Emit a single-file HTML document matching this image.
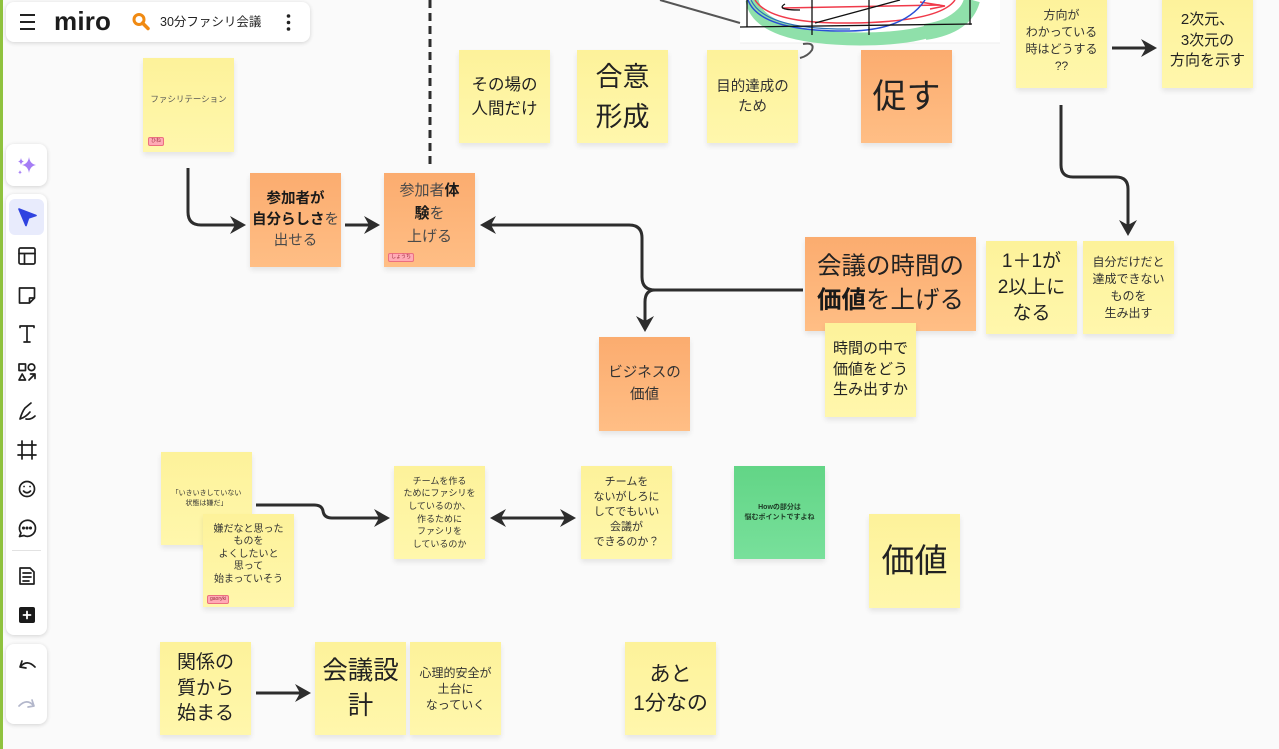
<!DOCTYPE html>
<html><head><meta charset="utf-8"><style>
*{margin:0;padding:0;box-sizing:border-box}
html,body{width:1279px;height:749px;overflow:hidden;background:#fafafa;font-family:"Liberation Sans","Noto Sans CJK JP",sans-serif}
.n{position:absolute;display:flex;flex-direction:column;align-items:center;justify-content:center;text-align:center;color:#222;white-space:nowrap;box-shadow:0 3px 5px rgba(0,0,0,.09)}
.y{background:linear-gradient(#fdf29a,#fff7ac)}
.o{background:linear-gradient(#fbac6f,#ffbe85)}
.g{background:linear-gradient(#62d586,#78e09b)}
.tag{position:absolute;background:#ffaab5;border:1px solid #ec6f80;border-radius:2px;font-size:5px;color:#9a2c3a;line-height:7px;padding:0 2px;white-space:nowrap}
.panel{position:absolute;background:#fff;border-radius:8px;box-shadow:0 1px 4px rgba(0,0,0,.16)}
b{font-weight:700;color:#1a1a1a}
.lt{color:#4a4a4a}
</style></head><body>
<div style="position:absolute;left:0;top:0;width:3px;height:749px;background:#8fc23e"></div>

<!-- sketch area -->
<svg style="position:absolute;left:0;top:0" width="1279" height="749">
<rect x="740" y="-2" width="260" height="45" fill="#fff"/>
<line x1="740" y1="43" x2="1000" y2="43" stroke="#eee" stroke-width="1"/>
<path d="M660,0 L740,23" stroke="#555" stroke-width="2" fill="none"/>
<path d="M752,0 Q758,38 860,39 Q955,39 972,0" stroke="#8fe0aa" stroke-width="13" fill="none"/>
<path d="M925,32 Q965,26 972,0" stroke="#8fe0aa" stroke-width="16" fill="none"/>
<path d="M755,0 Q770,24 850,23 Q940,22 955,0" stroke="#f03a4a" stroke-width="1.5" fill="none"/>
<path d="M782,8 L940,5 M920,2 L945,6 L930,9" stroke="#f03a4a" stroke-width="1.5" fill="none"/>
<path d="M748,0 Q760,32 850,31 Q905,30 925,0" stroke="#2a4fd6" stroke-width="1.5" fill="none"/>
<path d="M751,0 Q765,30 850,29" stroke="#2a70b8" stroke-width="1.2" fill="none"/>
<path d="M740,27 L972,24 M747,0 V27 M812,0 V35 M869,0 V35 M970,0 V25 M815,23 L900,0 M785,4 Q775,10 800,10" stroke="#111" stroke-width="1.3" fill="none"/>
<path d="M803,44 Q815,42 812,50 Q808,56 800,58" stroke="#555" stroke-width="2" fill="none"/>
</svg>

<!-- header -->
<div class="panel" style="left:6px;top:2px;width:304px;height:40px"></div>
<svg style="position:absolute;left:0;top:0" width="320" height="45">
<path d="M20,15 H35 M20,22 H35 M20,29 H35" stroke="#222" stroke-width="2"/>
<circle cx="139" cy="19.5" r="5" stroke="#f08a12" stroke-width="3" fill="none"/>
<path d="M142.5,23 L148,28.5" stroke="#f08a12" stroke-width="3.5" stroke-linecap="round"/>
<circle cx="288.5" cy="16" r="1.8" fill="#222"/><circle cx="288.5" cy="22.5" r="1.8" fill="#222"/><circle cx="288.5" cy="29" r="1.8" fill="#222"/>
</svg>
<div style="position:absolute;left:54px;top:5px;font-size:26px;font-weight:700;color:#1c1c1c;letter-spacing:0.2px;line-height:32px">miro</div>
<div style="position:absolute;left:160px;top:14px;font-size:12.5px;color:#222;line-height:17px">30分ファシリ会議</div>

<!-- left toolbar -->
<div class="panel" style="left:6px;top:144px;width:41px;height:42px"></div>
<div class="panel" style="left:6px;top:194px;width:41px;height:441px"></div>
<div class="panel" style="left:6px;top:644px;width:41px;height:80px"></div>
<div style="position:absolute;left:9px;top:199px;width:35px;height:36px;background:#e8ebfc;border-radius:6px"></div>
<div style="position:absolute;left:12px;top:550px;width:29px;height:1px;background:#e2e2e2"></div>
<svg style="position:absolute;left:0;top:0" width="60" height="749" fill="none" stroke="#1f1f1f" stroke-width="1.7" stroke-linejoin="round" stroke-linecap="round">
<path d="M29,157 Q30,164 36,165 Q30,166 29,173 Q28,166 22,165 Q28,164 29,157Z" fill="#a57df5" stroke="none"/>
<path d="M21,158 Q21.5,161 24,161.5 Q21.5,162 21,165 Q20.5,162 18,161.5 Q20.5,161 21,158Z" fill="#a57df5" stroke="none"/>
<path d="M20,170 Q20.3,172 22,172.3 Q20.3,172.6 20,174.5 Q19.7,172.6 18,172.3 Q19.7,172 20,170Z" fill="#a57df5" stroke="none"/>
<path d="M19,209 L36,215.5 L28.5,218 L26,225.5Z" fill="#2f43e0" stroke="#2f43e0"/>
<rect x="19" y="248" width="16" height="16" rx="1.5"/><path d="M19,253.5 H35 M24.5,253.5 V264"/>
<path d="M19.5,288 H34.5 V298 L29.5,303 H19.5Z M29.5,303 V298 H34.5"/>
<path d="M20,327.5 V326 H34 V327.5 M27,326 V342 M24,342 H30"/>
<rect x="19" y="364" width="6.5" height="6.5"/><circle cx="31.5" cy="367.3" r="3.3"/><path d="M22.2,374 L25.5,380 H19Z"/><path d="M29,380 L35,374 M30.5,374 H35 V378.5"/>
<path d="M20,419 Q22,412 25,408 L31,403 M20,419 Q26,417 30,412 M26,419 Q31,420 35,416"/>
<path d="M22,441 V459 M32,441 V459 M18,445 H36 M18,455 H36"/>
<circle cx="27" cy="489" r="7.5"/><path d="M24,486.5 h0.1 M30,486.5 h0.1 M23.5,491 Q27,494.5 30.5,491"/>
<path d="M21,533 A8,8 0 1 1 24,535.5 L19.5,536.5Z"/><circle cx="23.5" cy="528" r="0.7" fill="#1f1f1f"/><circle cx="27" cy="528" r="0.7" fill="#1f1f1f"/><circle cx="30.5" cy="528" r="0.7" fill="#1f1f1f"/>
<path d="M20,568 H30 L34,572 V584 H20Z M23,573 H31 M23,577 H31 M23,581 H29"/>
<rect x="19" y="607" width="16" height="16" rx="2" fill="#1a1a1a" stroke="none"/><path d="M27,611.5 V618.5 M23.5,615 H30.5" stroke="#fff" stroke-width="1.8"/>
<path d="M22,661 L20,667 L26,668 M20.5,666.5 Q27,659 35,667"/>
<path d="M32,700 L34,706 L28,707 M33.5,705.5 Q27,698 19,706" stroke="#b3b7cb"/>
</svg>

<!-- connectors -->
<svg style="position:absolute;left:0;top:0" width="1279" height="749">
<g stroke="#2d2d2d" stroke-width="3" fill="none">
<path d="M430,0 V168" stroke-dasharray="8,5"/>
<path d="M188,168 V212 Q188,225 201,225 H236"/>
<path d="M345,225 H370"/>
<path d="M803,290 H655 Q642,290 642,277 V238 Q642,225 629,225 H490"/>
<path d="M655,290 Q645,290 645,302 V322"/>
<path d="M1112,48 H1147"/>
<path d="M1061,105 V165 Q1061,177 1073,177 H1116 Q1128,177 1128,189 V226"/>
<path d="M256,505 H314 Q322,505 323,511 Q324,518 332,518 H380"/>
<path d="M500,518 H566"/>
<path d="M256,693 H301"/>
</g>
<g fill="#2d2d2d">
<polygon points="246,225 230,216 235,225 230,234"/>
<polygon points="380,225 364,216 369,225 364,234"/>
<polygon points="480,225 496,216 491,225 496,234"/>
<polygon points="645,332 636,316 645,321 654,316"/>
<polygon points="1157,48 1141,39 1146,48 1141,57"/>
<polygon points="1128,236 1119,220 1128,225 1137,220"/>
<polygon points="390,518 374,509 379,518 374,527"/>
<polygon points="490,518 506,509 501,518 506,527"/>
<polygon points="576,518 560,509 565,518 560,527"/>
<polygon points="311,693 295,684 300,693 295,702"/>
</g>
</svg>

<!-- notes -->
<div class="n y" style="left:143px;top:58px;width:91px;height:94px;font-size:8.5px;color:#555;padding-bottom:12px">ファシリテーション</div>
<div class="tag" style="left:148px;top:137px">ひね</div>

<div class="n o" style="left:250px;top:173px;width:91px;height:94px;font-size:14.5px;line-height:21px"><div><b>参加者が</b><br><b>自分らしさ</b><span class="lt">を</span><br><span class="lt">出せる</span></div></div>

<div class="n o" style="left:384px;top:173px;width:91px;height:94px;font-size:15px;line-height:23px;padding-bottom:14px"><div><span class="lt">参加者</span><b>体</b><br><b>験</b><span class="lt">を</span><br><span class="lt">上げる</span></div></div>
<div class="tag" style="left:388px;top:253px">しょうち</div>

<div class="n y" style="left:459px;top:50px;width:91px;height:93px;font-size:16.5px;line-height:24px"><div>その場の<br>人間だけ</div></div>
<div class="n y" style="left:577px;top:50px;width:91px;height:93px;font-size:27px;line-height:40px"><div>合意<br>形成</div></div>
<div class="n y" style="left:707px;top:50px;width:91px;height:93px;font-size:14.5px;line-height:20px;color:#333"><div>目的達成の<br>ため</div></div>
<div class="n o" style="left:861px;top:50px;width:91px;height:93px;font-size:34px;line-height:40px"><div>促す</div></div>

<div class="n y" style="left:1016px;top:-6px;width:91px;height:94px;font-size:12px;line-height:17px;color:#333"><div>方向が<br>わかっている<br>時はどうする<br>??</div></div>
<div class="n y" style="left:1162px;top:-6px;width:91px;height:94px;font-size:15px;line-height:20.5px"><div>2次元、<br>3次元の<br>方向を示す</div></div>

<div class="n o" style="left:805px;top:237px;width:171px;height:94px;font-size:24.5px;line-height:34px"><div>会議の時間の<br><b>価値</b>を上げる</div></div>
<div class="n y" style="left:825px;top:323px;width:91px;height:94px;font-size:15px;line-height:20.5px"><div>時間の中で<br>価値をどう<br>生み出すか</div></div>

<div class="n y" style="left:986px;top:241px;width:91px;height:93px;font-size:19px;line-height:26px"><div>1＋1が<br>2以上に<br>なる</div></div>
<div class="n y" style="left:1083px;top:241px;width:91px;height:93px;font-size:12px;line-height:17px;color:#333"><div>自分だけだと<br>達成できない<br>ものを<br>生み出す</div></div>

<div class="n o" style="left:599px;top:337px;width:91px;height:94px;font-size:14.5px;line-height:22px;color:#333"><div>ビジネスの<br>価値</div></div>

<div class="n y" style="left:161px;top:452px;width:91px;height:93px;font-size:7px;line-height:10px;color:#333"><div>「いきいきしていない<br>状態は嫌だ」</div></div>
<div class="n y" style="left:203px;top:514px;width:91px;height:93px;font-size:10px;line-height:12.5px;color:#333;padding-bottom:11px"><div>嫌だなと思った<br>ものを<br>よくしたいと<br>思って<br>始まっていそう</div></div>
<div class="tag" style="left:207px;top:595px">gaoryki</div>

<div class="n y" style="left:394px;top:466px;width:91px;height:93px;font-size:9px;line-height:12.6px;color:#333"><div>チームを作る<br>ためにファシリを<br>しているのか、<br>作るために<br>ファシリを<br>しているのか</div></div>
<div class="n y" style="left:581px;top:466px;width:91px;height:93px;font-size:11px;line-height:15px;color:#333"><div>チームを<br>ないがしろに<br>してでもいい<br>会議が<br>できるのか？</div></div>
<div class="n g" style="left:734px;top:466px;width:91px;height:93px;font-size:7px;line-height:10px;font-weight:700;color:#1d3a25"><div>Howの部分は<br>悩むポイントですよね</div></div>
<div class="n y" style="left:869px;top:514px;width:91px;height:94px;font-size:33px;line-height:40px"><div>価値</div></div>

<div class="n y" style="left:160px;top:642px;width:91px;height:93px;font-size:19px;line-height:25.5px"><div>関係の<br>質から<br>始まる</div></div>
<div class="n y" style="left:315px;top:642px;width:91px;height:93px;font-size:25.5px;line-height:35px"><div>会議設<br>計</div></div>
<div class="n y" style="left:410px;top:642px;width:91px;height:93px;font-size:12px;line-height:16px;color:#333"><div>心理的安全が<br>土台に<br>なっていく</div></div>
<div class="n y" style="left:625px;top:642px;width:91px;height:93px;font-size:21px;line-height:29px"><div>あと<br>1分なの</div></div>
</body></html>
